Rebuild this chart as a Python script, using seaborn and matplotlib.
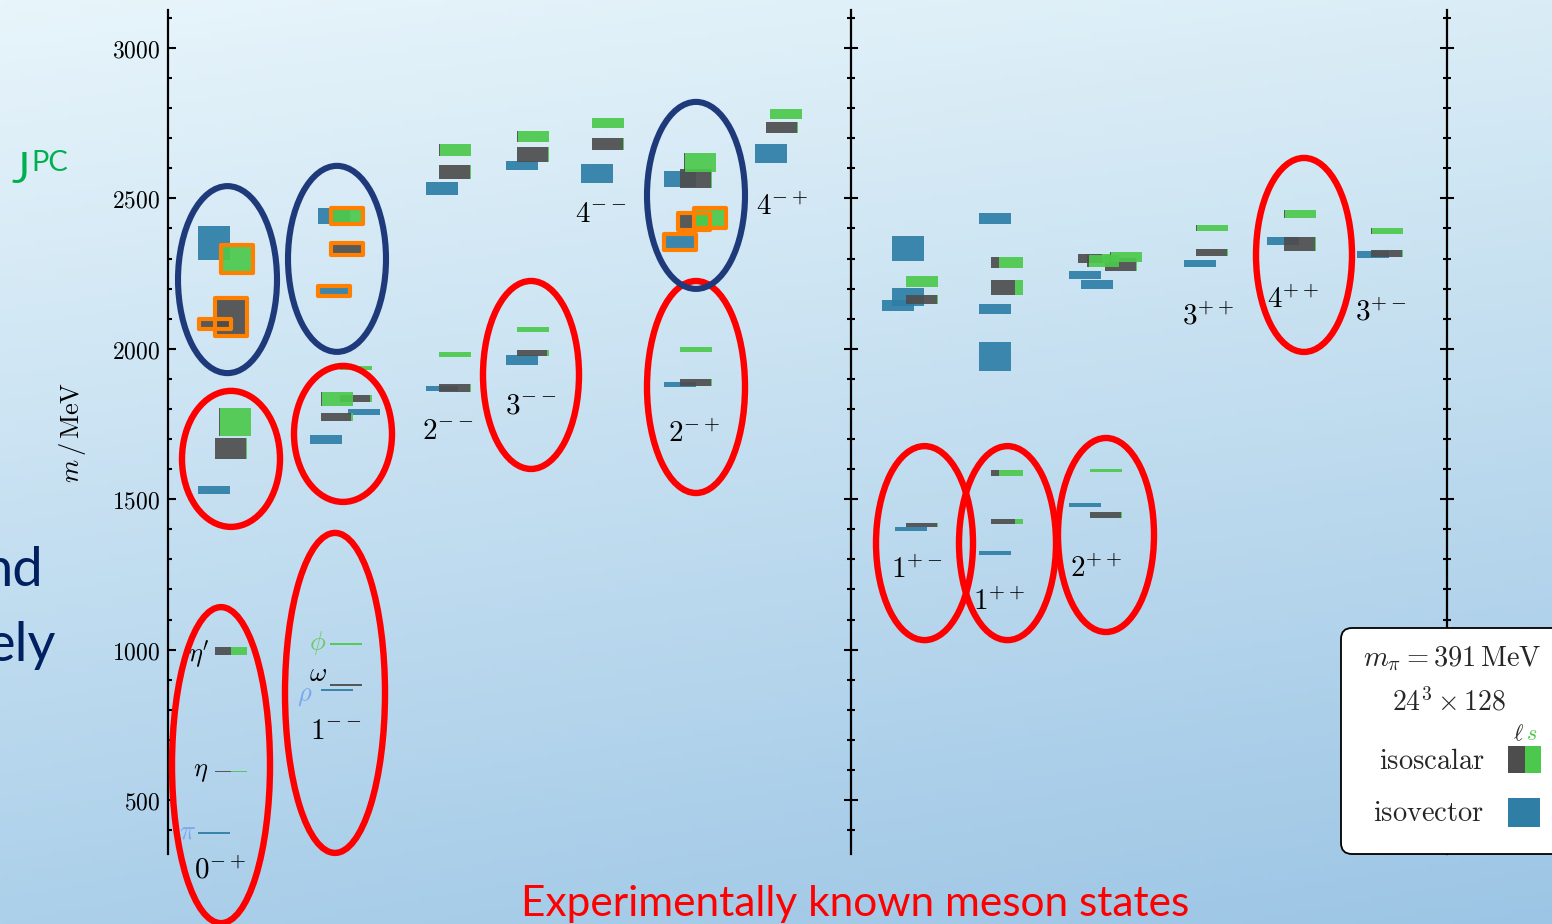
import numpy as np
import matplotlib
matplotlib.use("Agg")
import matplotlib.pyplot as plt
from matplotlib.patches import Ellipse, FancyBboxPatch, Rectangle
from matplotlib.ticker import MultipleLocator, FuncFormatter
import seaborn as sns

# ---------------- data ----------------
jpc_labels = [r"$0^{-+}$", r"$1^{--}$", r"$2^{--}$", r"$3^{--}$", r"$4^{--}$", r"$2^{-+}$",
              r"$4^{-+}$", r"$1^{+-}$", r"$1^{++}$", r"$2^{++}$", r"$3^{++}$", r"$4^{++}$",
              r"$3^{+-}$"]

# isovector states: mass and half-width of the uncertainty band (MeV)
iv_mass = [391, 1531, 2352,
           866, 1698, 1790, 2442, 2192,
           1868, 2533,
           1963, 2609,
           2583,
           1881, 2564, 2355,
           2649,
           1401, 2333, 2172, 2144,
           1321, 1974, 2132, 2433,
           1481, 2245, 2214,
           2284,
           2358,
           2313]
iv_err = [3, 13, 56,
          3, 15, 10, 27, 17,
          8, 22,
          16, 15,
          31,
          8, 26, 27,
          31,
          6, 42, 30, 18,
          7, 48, 16, 18,
          6, 13, 15,
          12,
          13,
          12]
iv_hybrid = [0, 0, 0,
             0, 0, 0, 0, 1,
             0, 0,
             0, 0,
             0,
             0, 0, 1,
             0,
             0, 0, 0, 0,
             0, 0, 0, 0,
             0, 0, 0,
             0,
             0,
             0]

# isoscalar states: mass, half-width, strange (s-sbar) fraction of the flavour content
is_mass = [595, 995, 1669, 1757, 2299, 2106, 2082,
           882, 1019, 1773, 1833, 1835, 1936, 2442, 2332,
           1870, 1981, 2588, 2661,
           1986, 2064, 2646, 2706,
           2681, 2751,
           1888, 1998, 2566, 2619, 2423, 2435,
           2736, 2781,
           1414, 2164, 2224,
           1426, 1587, 2204, 2288,
           1447, 1595, 2300, 2292, 2279, 2305,
           2320, 2402,
           2348, 2448,
           2317, 2392]
is_err = [3, 13, 35, 46, 46, 62, 17,
          3, 3, 13, 23, 12, 6, 27, 20,
          13, 7, 23, 20,
          9, 7, 25, 18,
          20, 16,
          11, 8, 32, 32, 28, 33,
          18, 17,
          7, 15, 18,
          8, 10, 25, 18,
          10, 5, 14, 19, 22, 16,
          12, 10,
          23, 13,
          12, 10]
is_sfrac = [0.5, 0.5, 0.04, 0.96, 0.94, 0.04, 0.0,
            0.0, 1.0, 0.05, 0.96, 0.05, 1.0, 0.93, 0.06,
            0.04, 1.0, 0.04, 0.97,
            0.05, 1.0, 0.04, 0.97,
            0.03, 1.0,
            0.04, 1.0, 0.04, 0.97, 0.55, 0.97,
            0.03, 1.0,
            0.04, 0.04, 1.0,
            0.25, 0.75, 0.25, 0.75,
            0.04, 1.0, 0.25, 0.95, 0.04, 0.96,
            0.04, 0.97,
            0.04, 0.97,
            0.04, 0.97]
is_hybrid = [0, 0, 0, 0, 1, 1, 1,
             0, 0, 0, 0, 0, 0, 1, 1,
             0, 0, 0, 0,
             0, 0, 0, 0,
             0, 0,
             0, 0, 0, 0, 1, 1,
             0, 0,
             0, 0, 0,
             0, 0, 0, 0,
             0, 0, 0, 0, 0, 0,
             0, 0,
             0, 0,
             0, 0]

# ---------------- layout ----------------
# horizontal slots (left edge of each box, figure pixels)
iv_x = [198, 198, 198,
        321, 310, 348, 318, 318,
        426, 426,
        506, 506,
        581,
        664, 664, 664,
        755,
        895, 892, 892, 882,
        979, 979, 979, 979,
        1069, 1069, 1081,
        1184,
        1267,
        1357]
is_x = [215, 215, 215, 219, 221, 215, 199,
        330, 330, 321, 321, 340, 340, 331, 331,
        439, 439, 439, 439,
        517, 517, 517, 517,
        592, 592,
        680, 680, 680, 684, 678, 694,
        766, 770,
        906, 906, 906,
        991, 991, 991, 991,
        1090, 1090, 1078, 1087, 1105, 1110,
        1196, 1196,
        1284, 1284,
        1371, 1371]
box_w = 32
label_pos = [(220, 267), (336, 729), (448, 1727), (531, 1810), (601, 2448), (694, 1717),
             (782, 2471), (917, 1265), (999, 1158), (1096, 1268), (1208, 2109),
             (1293, 2162), (1381, 2122)]

FIG_W, FIG_H = 1552, 924
Y0_PX, PX_PER_MEV = 48, 0.3008   # 3000 MeV tick row and scale
def px_to_mev(ypx):
    return 3000 - (ypx - Y0_PX) / PX_PER_MEV

C_L = "#4d4d4d"
C_S = "#4cc94c"
C_IV = "#2e7ea6"
C_HYB = "#ff8000"
C_RED = "#ff0000"
C_NAVY = "#1e3a7a"

sns.set_theme(style="ticks")
plt.rcParams["mathtext.fontset"] = "cm"
plt.rcParams["font.family"] = ["DejaVu Sans"]

fig = plt.figure(figsize=(FIG_W / 100, FIG_H / 100), dpi=100)

# background gradient
bg = fig.add_axes([0, 0, 1, 1], zorder=-10)
ny, nx = 200, 300
u = np.linspace(0, 1, nx)[None, :, None]
t = np.linspace(0, 1, ny)[:, None, None]
tl = np.array([232, 245, 251]) / 255
tr = np.array([218, 237, 246]) / 255
bl = np.array([172, 208, 234]) / 255
br = np.array([156, 197, 229]) / 255
grad = (1 - t) * ((1 - u) * tl + u * tr) + t * ((1 - u) * bl + u * br)
bg.imshow(grad, extent=[0, 1, 0, 1], aspect="auto", origin="upper")
bg.axis("off")

# main mass axis
ylo, yhi = px_to_mev(854), px_to_mev(10)
L, B = 168 / FIG_W, (FIG_H - 854) / FIG_H
W, H = (FIG_W - 168) / FIG_W, 844 / FIG_H
ax = fig.add_axes([L, B, W, H])
ax.set_facecolor("none")
ax.set_xlim(168, FIG_W)
ax.set_ylim(ylo, yhi)
for s in ["top", "right", "bottom"]:
    ax.spines[s].set_visible(False)
ax.spines["left"].set_linewidth(1.6)
ax.spines["left"].set_color("black")
ax.set_xticks([])
ax.yaxis.set_major_locator(MultipleLocator(500))
ax.yaxis.set_minor_locator(MultipleLocator(100))
ax.yaxis.set_major_formatter(FuncFormatter(lambda v, p: f"${int(v)}$"))
ax.tick_params(axis="y", which="major", direction="in", length=5.5, width=1.5,
               labelsize=17, pad=5.5, color="black", labelcolor="black")
ax.tick_params(axis="y", which="minor", direction="in", length=3.2, width=1.5, color="black")

# divider axes between parity sectors
for xp in (851, 1447):
    d = fig.add_axes([xp / FIG_W, B, 0.0001, H])
    d.set_facecolor("none")
    d.set_ylim(ylo, yhi)
    for s in ["top", "right", "bottom"]:
        d.spines[s].set_visible(False)
    d.spines["left"].set_linewidth(1.6)
    d.spines["left"].set_color("black")
    d.set_xticks([])
    d.yaxis.set_major_locator(MultipleLocator(500))
    d.yaxis.set_minor_locator(MultipleLocator(100))
    d.tick_params(axis="y", which="major", direction="inout", length=10, width=1.5,
                  labelleft=False, color="black")
    d.tick_params(axis="y", which="minor", direction="inout", length=5.8, width=1.5,
                  color="black")

# isovector boxes
iv_m = np.array(iv_mass, float)
iv_e = np.array(iv_err, float)
ax.bar(iv_x, 2 * iv_e, bottom=iv_m - iv_e, width=box_w, align="edge",
       color=C_IV, alpha=0.92, linewidth=0, zorder=3)

# isoscalar boxes split into light-quark and strange parts
is_m = np.array(is_mass, float)
is_e = np.array(is_err, float)
sf = np.array(is_sfrac, float)
xl = np.array(is_x, float)
ax.bar(xl, 2 * is_e, bottom=is_m - is_e, width=box_w * (1 - sf), align="edge",
       color=C_L, alpha=0.92, linewidth=0, zorder=4)
ax.bar(xl + box_w * (1 - sf), 2 * is_e, bottom=is_m - is_e, width=box_w * sf,
       align="edge", color=C_S, alpha=0.92, linewidth=0, zorder=4)

# hybrid candidates outlined
hv = np.array(iv_hybrid, bool)
hs = np.array(is_hybrid, bool)
outl = []
outl += list(ax.bar(np.array(iv_x)[hv], 2 * iv_e[hv], bottom=(iv_m - iv_e)[hv], width=box_w,
                    align="edge", fill=False, edgecolor=C_HYB, linewidth=3, zorder=5))
outl += list(ax.bar(xl[hs], 2 * is_e[hs], bottom=(is_m - is_e)[hs], width=box_w,
                    align="edge", fill=False, edgecolor=C_HYB, linewidth=3, zorder=5))
for p in outl:
    p.set_joinstyle("round")

# J^PC labels
for lab, (x, m) in zip(jpc_labels, label_pos):
    ax.text(x, m, lab, ha="center", va="center", fontsize=21, color="black",
            clip_on=False, zorder=6)

# ground-state names
gs = [(r"$\pi$", 187, 395, "#7aa8f0"), (r"$\eta$", 201, 595, "black"),
      (r"$\eta'$", 199, 985, "black"), (r"$\phi$", 318, 1022, "#6cc86c"),
      (r"$\omega$", 318, 918, "black"), (r"$\rho$", 305, 848, "#7aa8f0")]
for txt, x, m, c in gs:
    ax.text(x, m, txt, ha="center", va="center", fontsize=19, color=c, zorder=6)

# group ellipses (x centre in px, y centre in MeV, width px, height px)
red_groups = [(221, 616, 98, 316), (335, 856, 100, 320), (231, 1634, 98, 136),
              (343, 1717, 98, 136), (531, 1913, 96, 188), (696, 1873, 98, 212),
              (924.5, 1354, 97, 194), (1007.5, 1354, 97, 194), (1106, 1381, 96, 194),
              (1304, 2312, 96, 194)]
navy_groups = [(227.5, 2230, 99, 187), (337, 2299, 98, 186), (696, 2510, 98, 187)]
for (x, m, w, h) in red_groups:
    ax.add_patch(Ellipse((x, m), w, h / PX_PER_MEV, fill=False, edgecolor=C_RED,
                         linewidth=4.6, clip_on=False, zorder=7))
for (x, m, w, h) in navy_groups:
    ax.add_patch(Ellipse((x, m), w, h / PX_PER_MEV, fill=False, edgecolor=C_NAVY,
                         linewidth=4.4, clip_on=False, zorder=8))

# overlay in pixel coordinates for slide text and the key
ov = fig.add_axes([0, 0, 1, 1], zorder=20)
ov.set_xlim(0, FIG_W)
ov.set_ylim(FIG_H, 0)
ov.axis("off")
ov.patch.set_alpha(0)

ov.text(73, 432, r"$m\,/\,\mathrm{MeV}$", rotation=90, ha="center", va="center",
        fontsize=19, color="black")
ov.text(11, 183, "J", fontsize=31, color="#00b050", family=["Lato", "DejaVu Sans"],
        ha="left", va="baseline")
ov.text(31, 171, "PC", fontsize=21, color="#00b050", family=["Lato", "DejaVu Sans"],
        ha="left", va="baseline")
ov.text(43, 586, "nd", fontsize=39, color="#002060", family=["Lato", "DejaVu Sans"],
        ha="right", va="baseline")
ov.text(56, 661, "ely", fontsize=39, color="#002060", family=["Lato", "DejaVu Sans"],
        ha="right", va="baseline")
ov.text(855, 916, "Experimentally known meson states", fontsize=30.5, color=C_RED,
        family=["Lato", "DejaVu Sans"], ha="center", va="baseline")

# key
ov.add_patch(FancyBboxPatch((1341, 628), 260, 226,
                            boxstyle="round,pad=0,rounding_size=11",
                            facecolor="white", edgecolor="black", linewidth=1.3))
ov.text(1452, 659, r"$m_\pi = 391\,\mathrm{MeV}$", fontsize=20.5, ha="center", va="center")
ov.text(1449, 702, r"$24^3 \times 128$", fontsize=20, ha="center", va="center")
ov.text(1518, 734, r"$\ell$", fontsize=16, ha="center", va="center")
ov.text(1532, 734, r"$s$", fontsize=16, ha="center", va="center", color=C_S)
ov.text(1432, 761, r"$\mathrm{isoscalar}$", fontsize=20.5, ha="center", va="center")
ov.text(1429, 813, r"$\mathrm{isovector}$", fontsize=20.5, ha="center", va="center")
ov.add_patch(Rectangle((1508, 746), 17, 27, facecolor=C_L, linewidth=0))
ov.add_patch(Rectangle((1525, 746), 16, 27, facecolor=C_S, linewidth=0))
ov.add_patch(Rectangle((1508, 798), 32, 29, facecolor=C_IV, linewidth=0))

fig.savefig("out.png", dpi=100)
